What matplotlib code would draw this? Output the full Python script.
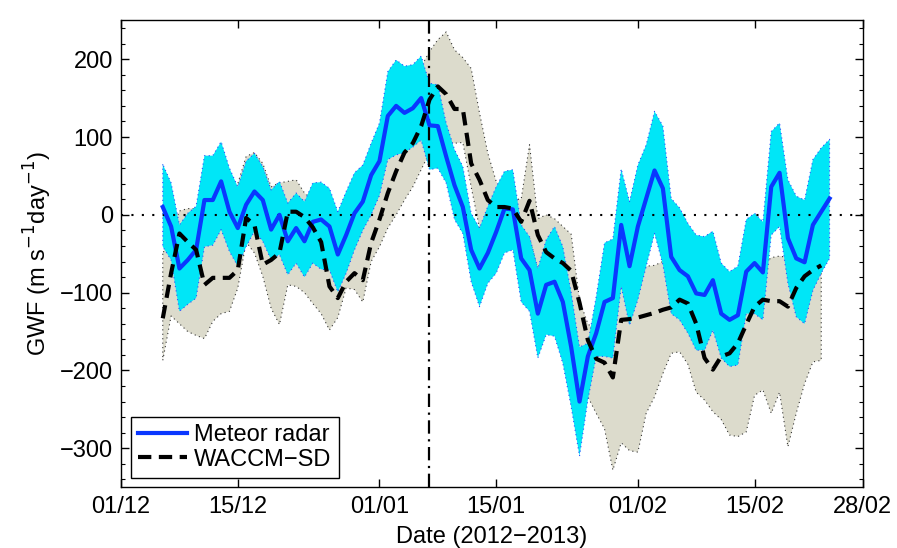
import numpy as np
import pandas as pd
import matplotlib
matplotlib.use("Agg")
import matplotlib.pyplot as plt
import matplotlib.dates as mdates
from matplotlib.ticker import MultipleLocator

plt.rcParams["font.family"] = ["Liberation Sans", "DejaVu Sans"]
plt.rcParams["font.size"] = 17

# daily values, meteor radar from 06/12/2012, WACCM-SD from 06/12/2012
radar_dates = pd.date_range("2012-12-06", "2013-02-24", freq="D")
waccm_dates = pd.date_range("2012-12-06", "2013-02-23", freq="D")

radar_mean = [10, -15, -69, -58, -45, 19, 19, 43, 4, -17,
              13, 30, 19, -19, 0, -34, -17, -34, -9, -6,
              -15, -51, -26, 2, 17, 51, 69, 127, 140, 131,
              137, 150, 115, 114, 75, 38, 10, -45, -69, -49,
              -22, 8, 7, -56, -71, -127, -90, -86, -112, -170,
              -240, -182, -152, -112, -107, -13, -66, -15, 21, 57,
              34, -54, -71, -79, -101, -103, -84, -127, -135, -129,
              -73, -62, -74, 36, 54, -30, -56, -61, -13, 4, 21]
radar_upper = [65, 41, -13, 2, 11, 76, 76, 94, 60, 36,
               69, 79, 62, 32, 43, 15, 28, 17, 41, 42,
               34, 4, 30, 54, 64, 92, 118, 184, 199, 191,
               193, 204, 169, 167, 118, 84, 62, 2, -17, 11,
               36, 56, 58, -13, -28, -69, -32, -15, -41, -100,
               -170, -165, -105, -36, -31, 59, 17, 64, 90, 133,
               114, 21, 9, -11, -26, -28, -21, -62, -73, -66,
               -6, 2, -9, 107, 118, 45, 24, 19, 71, 86, 97]
radar_lower = [-41, -58, -124, -115, -107, -41, -39, -19, -47, -66,
               -41, -21, -34, -58, -51, -77, -62, -80, -62, -70,
               -71, -99, -75, -45, -20, 0, 25, 71, 77, 80,
               87, 96, 58, 60, 41, -6, -24, -86, -118, -88,
               -75, -49, -45, -112, -124, -184, -154, -156, -191, -247,
               -310, -238, -182, -182, -184, -92, -142, -109, -66, -24,
               -64, -127, -135, -152, -174, -174, -148, -184, -195, -193,
               -127, -127, -135, -26, -15, -88, -131, -140, -97, -75, -56]

waccm_mean = [-133, -75, -24, -35, -45, -90, -81, -81, -81, -71,
              -4, -13, -64, -58, -49, 4, 4, -3, -16, -35,
              -92, -107, -86, -75, -84, -36, -6, 28, 56, 80,
              92, 114, 148, 165, 155, 136, 136, 66, 45, 19,
              10, 10, 8, -9, 18, -26, -48, -56, -62, -72,
              -113, -161, -185, -190, -209, -135, -134, -132, -129, -126,
              -122, -119, -109, -114, -140, -184, -199, -182, -178, -165,
              -141, -118, -109, -111, -111, -118, -94, -79, -71, -65]
waccm_upper = [-50, -25, 5, 8, 8, 20, 30, 40, 30, 40,
               75, 80, 66, 36, 41, 43, 45, 28, 20, 10,
               -10, -30, -20, 0, 20, 40, 60, 80, 100, 120,
               150, 190, 210, 225, 235, 212, 202, 188, 131, 79,
               43, 30, 20, 20, 90, -5, 0, -5, -15, -25,
               -110, -140, -150, -130, -100, -92, -110, -84, -66, -65,
               -60, -62, -70, -80, -90, -95, -80, -75, -85, -80,
               -70, -60, -65, -55, -53, -55, -52, -50, -55, -60]
waccm_lower = [-187, -130, -140, -150, -155, -159, -137, -127, -124, -94,
               -35, -49, -79, -120, -141, -90, -92, -100, -114, -127,
               -148, -132, -94, -96, -112, -60, -41, -17, 0, 19,
               36, 58, 80, 95, 95, 92, 93, 36, -17, -30,
               -30, -30, -40, -50, -30, -70, -80, -90, -110, -150,
               -200, -234, -255, -275, -328, -293, -303, -305, -255, -234,
               -204, -178, -176, -192, -228, -238, -253, -263, -283, -285,
               -279, -232, -225, -255, -228, -298, -255, -217, -189, -187]

xtick_dates = ["2012-12-01", "2012-12-15", "2013-01-01", "2013-01-15",
               "2013-02-01", "2013-02-15", "2013-02-28"]
event_date = "2013-01-07"

CYAN, GREY, BLUE = "#00e6f7", "#dcdbcc", "#0a37ff"

fig = plt.figure(figsize=(8.97, 5.48), dpi=100)
ax = fig.add_axes([0.135, 0.111, 0.827, 0.852])

ax.fill_between(waccm_dates, waccm_lower, waccm_upper, facecolor=GREY,
                edgecolor="#333333", linestyle=(0, (1, 3)), linewidth=0.8)
ax.fill_between(radar_dates, radar_lower, radar_upper, facecolor=CYAN,
                edgecolor="#3050ff", linestyle=(0, (1, 3)), linewidth=0.8)

ax.axhline(0, color="black", linestyle=(0, (1, 4)), linewidth=1.5)
ax.axvline(pd.Timestamp(event_date), color="black",
           linestyle=(0, (6, 2.5, 1, 2.5)), linewidth=1.6)

ax.plot(radar_dates, radar_mean, color=BLUE, linewidth=3, label="Meteor radar")
ax.plot(waccm_dates, waccm_mean, color="black", linewidth=3,
        linestyle=(0, (3.2, 1.8)), label="WACCM\u2212SD")

ax.set_xlim(pd.Timestamp("2012-12-01"), pd.Timestamp("2013-02-28"))
ax.set_ylim(-350, 250)
ax.set_xticks([pd.Timestamp(d) for d in xtick_dates])
ax.xaxis.set_major_formatter(mdates.DateFormatter("%d/%m"))
ax.yaxis.set_major_locator(MultipleLocator(100))
ax.yaxis.set_minor_locator(MultipleLocator(20))
ax.tick_params(direction="in", top=True, right=True, length=6, width=1,
               labelsize=17, pad=6)
ax.tick_params(which="minor", axis="y", direction="in", left=True, right=True,
               length=3, width=0.8)
for s in ax.spines.values():
    s.set_linewidth(1)

ax.set_xlabel("Date (2012\u22122013)", fontsize=17, labelpad=6)
ax.set_ylabel("GWF (m s$^{-1}$day$^{-1}$)", fontsize=17, labelpad=4)

leg = ax.legend(loc="lower left", fancybox=False, edgecolor="black",
                framealpha=1, fontsize=17, handlelength=2.1,
                handletextpad=0.3, borderpad=0.3, labelspacing=0.1,
                borderaxespad=0.4)
leg.get_frame().set_linewidth(1)

fig.savefig("out.png", dpi=100)
